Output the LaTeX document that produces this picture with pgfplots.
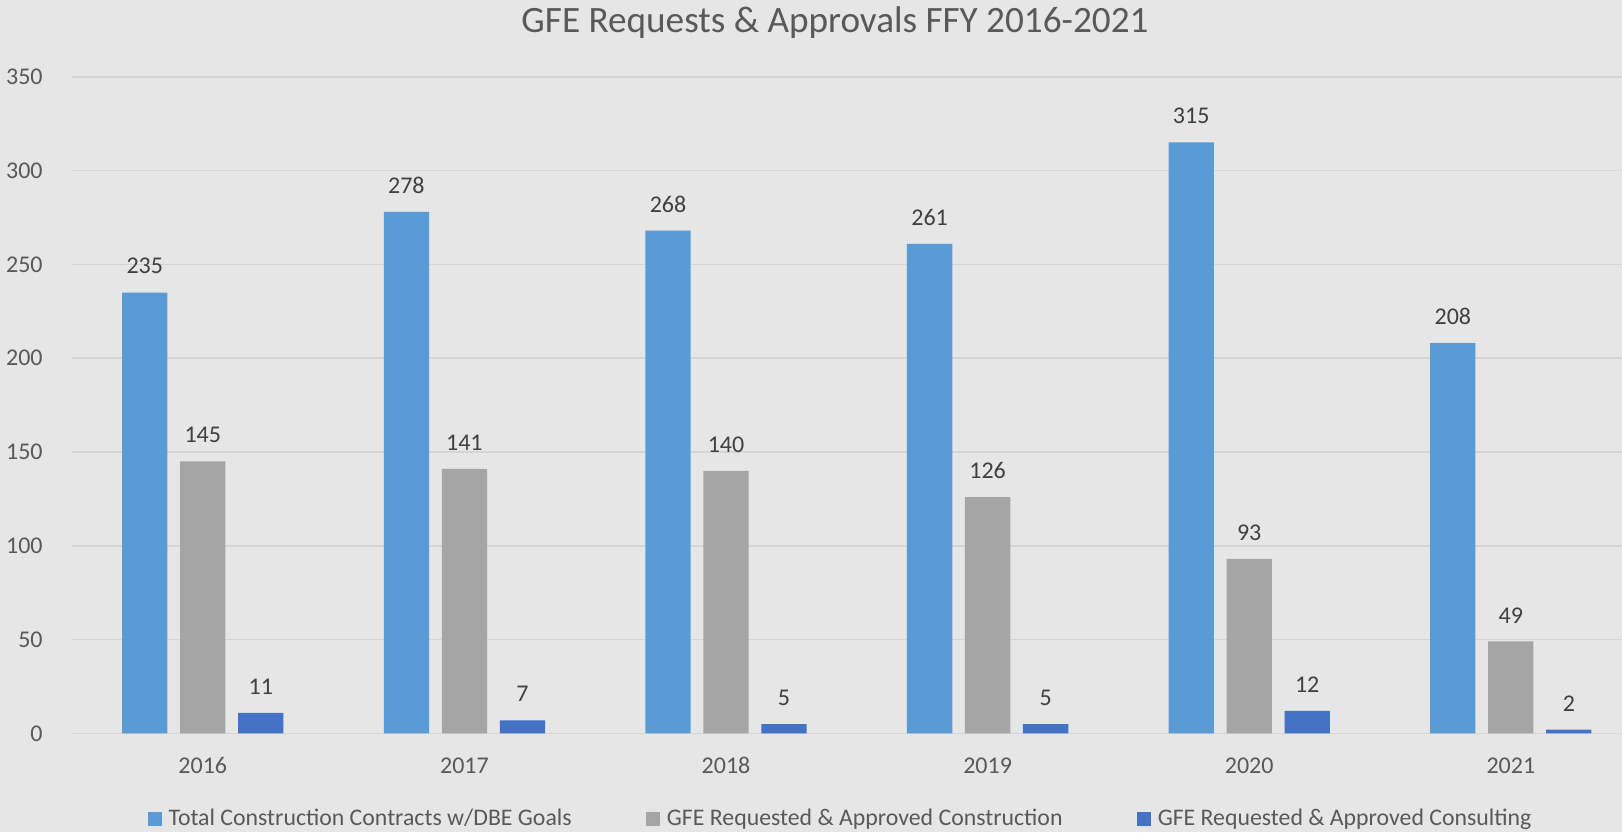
\documentclass[border=0pt]{standalone}
\usepackage{fontspec}
\setmainfont{Carlito}
\usepackage{pgfplots}
\pgfplotsset{compat=1.18}
\definecolor{bg}{HTML}{E6E6E6}
\definecolor{c1}{HTML}{5B9BD5}
\definecolor{c2}{HTML}{A5A5A5}
\definecolor{c3}{HTML}{4472C4}
\definecolor{txt}{HTML}{595959}
\definecolor{lbl}{HTML}{404040}
\definecolor{gridc}{HTML}{D5D5D5}
\begin{document}
\begin{tikzpicture}
\fill[bg] (-36pt,-49.3pt) rectangle (775pt,366.7pt);
\useasboundingbox (-36pt,-49.3pt) rectangle (775pt,366.7pt);
\begin{axis}[
  /pgf/number format/assume math mode=true,
  scale only axis, width=775pt, height=328.3pt,
  at={(0pt,0pt)}, anchor=south west,
  xmin=-0.5, xmax=5.425, ymin=0, ymax=350,
  ybar=6.35pt, bar width=22.65pt,
  axis line style={draw=none},
  major tick length=0pt,
  ymajorgrids, grid style={draw=gridc, line width=0.75pt},
  ytick={0,50,...,350},
  xtick={0,1,2,3,4,5},
  xticklabels={2016,2017,2018,2019,2020,2021},
  xticklabel style={anchor=base, yshift=-20pt, font=\fontsize{12}{14}\selectfont, text=txt},
  yticklabel style={anchor=east, inner sep=0pt, xshift=-14.5pt, font=\fontsize{12}{14}\selectfont, text=txt},
  nodes near coords,
  every node near coord/.append style={font=\fontsize{12}{14}\selectfont, text=lbl, inner sep=0pt, yshift=9pt},
  legend columns=3,
  legend image code/.code={\fill[#1] (0pt,-3.5pt) rectangle (7pt,3.5pt);},
  legend style={at={(0.049,-0.1304)}, anchor=west, draw=none, fill=none,
    inner sep=0pt, outer sep=0pt,
    font=\fontsize{11.9}{14}\selectfont, text=txt,
    nodes={inner xsep=3.3pt, inner ysep=0pt},
    /tikz/every even column/.append style={column sep=34pt}},
]
\addplot[fill=c1, draw=none] coordinates {(0,235) (1,278) (2,268) (3,261) (4,315) (5,208)};
\addplot[fill=c2, draw=none] coordinates {(0,145) (1,141) (2,140) (3,126) (4,93) (5,49)};
\addplot[fill=c3, draw=none] coordinates {(0,11) (1,7) (2,5) (3,5) (4,12) (5,2)};
\legend{Total Construction Contracts w/DBE Goals, GFE Requested \& Approved Construction, GFE Requested \& Approved Consulting}
\end{axis}
\node[anchor=base, font=\fontsize{18.6}{22}\selectfont, text=txt] at (381.5pt,350.2pt) {GFE Requests \& Approvals FFY 2016-2021};
\end{tikzpicture}
\end{document}
